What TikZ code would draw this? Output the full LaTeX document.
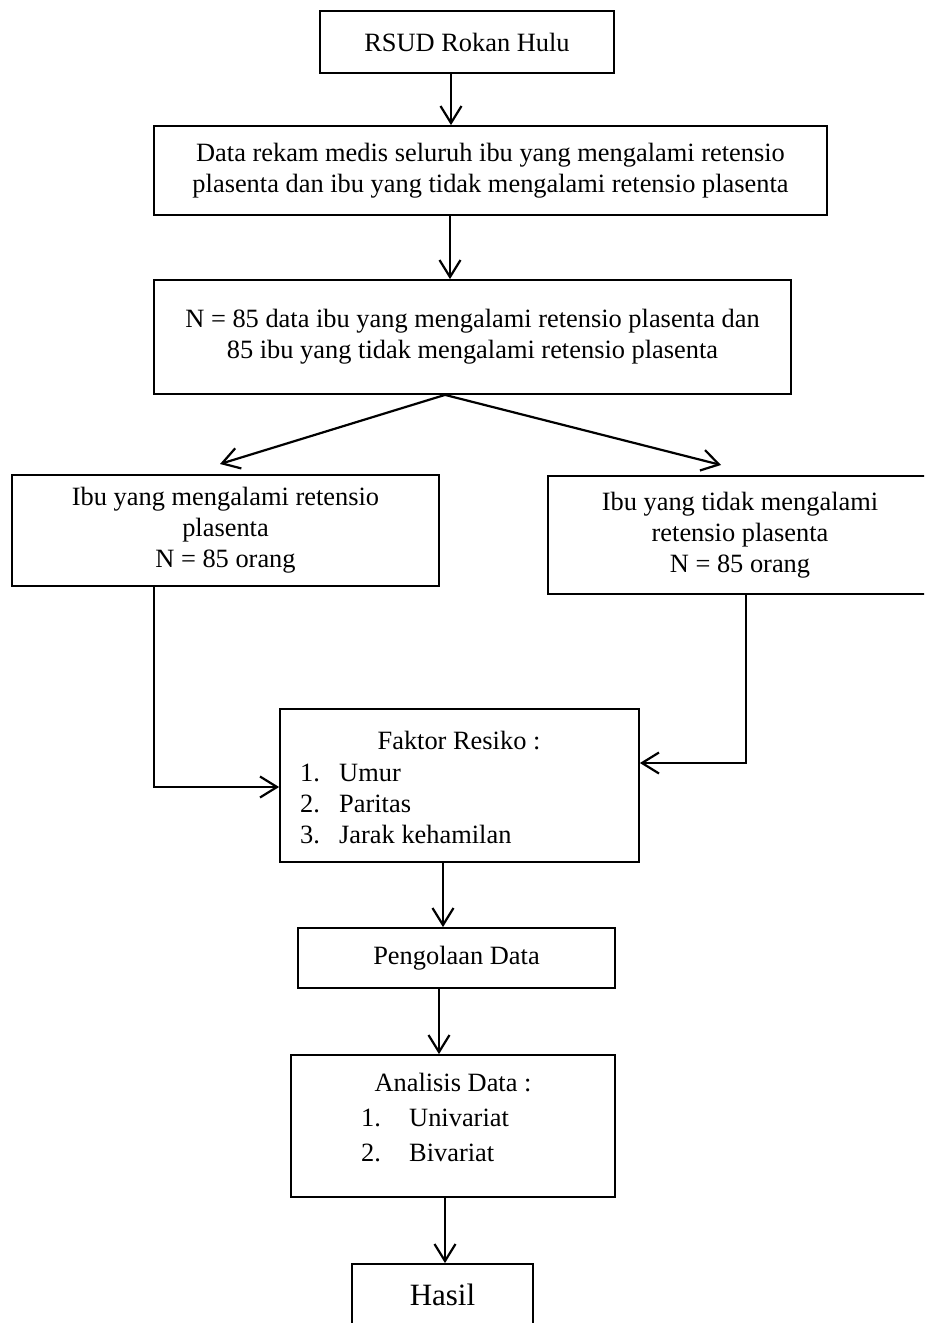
\documentclass[tikz,border=0pt]{standalone}
\usepackage{fontspec}
\setmainfont{Liberation Serif}
\usetikzlibrary{arrows.meta}
\begin{document}
\begin{tikzpicture}[x=1pt,y=-1pt,
  box/.style={draw, line width=1.8pt, inner sep=0pt, font=\fontsize{26.4}{31}\selectfont, align=center},
  txt/.style={inner sep=0pt, font=\fontsize{26.4}{31}\selectfont},
  arr/.style={line width=2.2pt, -{Straight Barb[length=17pt,width=21pt,line width=2.2pt]}}]
\useasboundingbox (0,0) rectangle (924,1323);
\clip (0,0) rectangle (924,1323);
% boxes
\node[box, minimum width=294pt, minimum height=62pt] (rsud) at (467,42) {RSUD Rokan Hulu};
\node[box, minimum width=673pt, minimum height=89pt] (data) at (490.5,170.5)
  {Data rekam medis seluruh ibu yang mengalami retensio\\plasenta dan ibu yang tidak mengalami retensio plasenta};
\node[box, minimum width=637pt, minimum height=114pt] (total) at (472.5,337)
  {N = 85 data ibu yang mengalami retensio plasenta dan\\85 ibu yang tidak mengalami retensio plasenta};
\node[box, minimum width=427pt, minimum height=111pt] (kasus) at (225.5,530.5)
  {Ibu yang mengalami retensio\\plasenta\\N = 85 orang};
\node[box, minimum width=384pt, minimum height=118pt] (kontrol) at (740,535)
  {Ibu yang tidak mengalami\\retensio plasenta\\N = 85 orang};
\node[box, minimum width=359pt, minimum height=153pt] (faktor) at (459.5,785.5) {};
\node[box, minimum width=317pt, minimum height=60pt] (olah) at (456.5,958) {Pengolaan Data};
\node[box, minimum width=324pt, minimum height=142pt] (analisis) at (453,1126) {};
\node[box, minimum width=181pt, minimum height=62pt, font=\fontsize{31}{36}\selectfont] (hasil) at (442.5,1295) {Hasil};
% texts inside faktor
\node[txt, anchor=base] (fh) at (459,749) {Faktor Resiko :};
\node[txt, anchor=base west] (f1n) at (300,781) {1.};
\node[txt, anchor=base west] (f1) at (339,781) {Umur};
\node[txt, anchor=base west] (f2n) at (300,812) {2.};
\node[txt, anchor=base west] (f2) at (339,812) {Paritas};
\node[txt, anchor=base west] (f3n) at (300,843) {3.};
\node[txt, anchor=base west] (f3) at (339,843) {Jarak kehamilan};
% texts inside analisis
\node[txt, anchor=base] (ah) at (453,1091) {Analisis Data :};
\node[txt, anchor=base west] (a1n) at (361,1126) {1.};
\node[txt, anchor=base west] (a1) at (409,1126) {Univariat};
\node[txt, anchor=base west] (a2n) at (361,1161) {2.};
\node[txt, anchor=base west] (a2) at (409,1161) {Bivariat};
% helper coordinates
\coordinate (c1) at (451,0);
\coordinate (c2) at (450,0);
\coordinate (split) at (445,0);
\coordinate (tipL) at (220,464);
\coordinate (tipR) at (721,465);
\coordinate (colL) at (154,0);
\coordinate (rowL) at (0,787);
\coordinate (colR) at (746,0);
\coordinate (rowR) at (0,763);
\coordinate (c3) at (443,0);
\coordinate (c4) at (439,0);
\coordinate (c5) at (445,0);
% connectors
\draw[arr] (rsud.south -| c1) -- (data.north -| c1);
\draw[arr] (data.south -| c2) -- (total.north -| c2);
\draw[arr] (total.south -| split) -- (tipL);
\draw[arr] (total.south -| split) -- (tipR);
\draw[arr] (kasus.south -| colL) |- (faktor.west |- rowL);
\draw[arr] (kontrol.south -| colR) |- (faktor.east |- rowR);
\draw[arr] (faktor.south -| c3) -- (olah.north -| c3);
\draw[arr] (olah.south -| c4) -- (analisis.north -| c4);
\draw[arr] (analisis.south -| c5) -- (hasil.north -| c5);
\end{tikzpicture}
\end{document}
